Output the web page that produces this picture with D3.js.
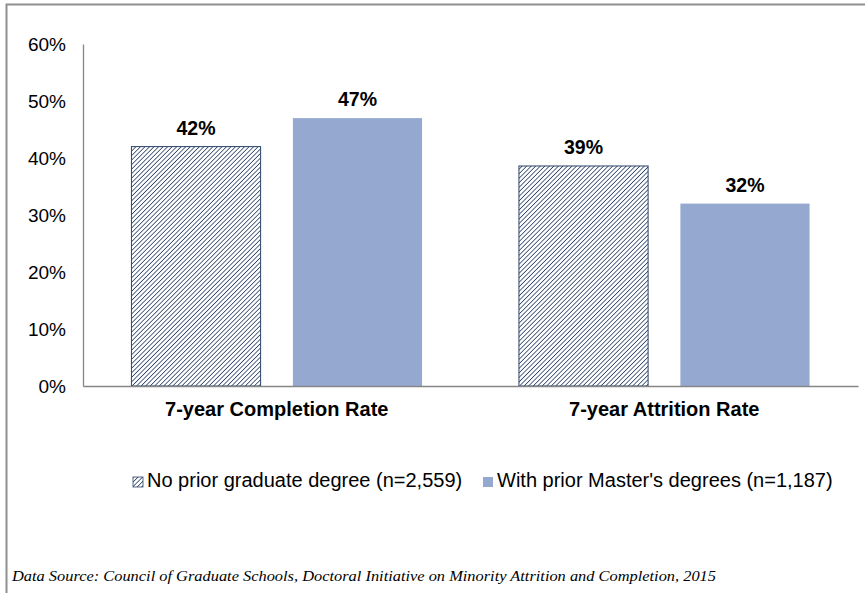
<!DOCTYPE html>
<html lang="en">

<head>
  <meta charset="UTF-8">
  <title>Completion and Attrition Rates</title>
  <script src="https://d3js.org/d3.v7.min.js"></script>
  <style>
    body { margin: 0; background: #fff; }
    svg text { font-family: "Liberation Sans", Arial, sans-serif; }
  </style>
</head>

<body>
  <script>

    // chart data
    var categories = ["7-year Completion Rate", "7-year Attrition Rate"];
    var seriesKeys = ["noPrior", "withMasters"];
    var seriesNames = ["No prior graduate degree (n=2,559)", "With prior Master's degrees (n=1,187)"];
    var noPriorValues = [0.42, 0.386];
    var withMastersValues = [0.47, 0.32];
    var yTickValues = [0, 0.1, 0.2, 0.3, 0.4, 0.5, 0.6];
    var sourceNote = "Data Source:  Council of Graduate Schools, Doctoral Initiative on Minority Attrition and Completion, 2015";

    var width = 865, height = 593;
    var plot = { left: 83, right: 858, top: 44, bottom: 386 };

    var blue = "#95a9d0";
    var navy = "#2d4468";
    var axisGray = "#868686";

    var svg = d3.select("body").append("svg")
      .attr("width", width)
      .attr("height", height);

    // hatch pattern for the first series
    var defs = svg.append("defs");
    var hatch = defs.append("pattern")
      .attr("id", "hatch")
      .attr("patternUnits", "userSpaceOnUse")
      .attr("width", 3.2)
      .attr("height", 3.2)
      .attr("patternTransform", "rotate(45)");
    hatch.append("rect").attr("width", 3.2).attr("height", 3.2).attr("fill", "#fff");
    hatch.append("line")
      .attr("x1", 0).attr("y1", 0).attr("x2", 0).attr("y2", 3.2)
      .attr("stroke", navy)
      .attr("stroke-width", 1.6);

    var fills = { noPrior: "url(#hatch)", withMasters: blue };
    var strokes = { noPrior: navy, withMasters: "none" };

    // chart frame (cut off at right and bottom)
    svg.append("rect")
      .attr("x", 6.5).attr("y", 4.5)
      .attr("width", 900).attr("height", 650)
      .attr("fill", "none")
      .attr("stroke", "#8f8f8f")
      .attr("stroke-width", 2);

    // scales
    var x0 = d3.scaleBand().domain(categories).range([plot.left, plot.right]);
    var x1 = d3.scaleBand().domain(seriesKeys)
      .range([0, x0.bandwidth()])
      .paddingInner(0.2)
      .paddingOuter(0.3);
    var y = d3.scaleLinear().domain([0, 0.6]).range([plot.bottom, plot.top]);

    var rows = categories.map(function (c, i) {
      return { category: c, noPrior: noPriorValues[i], withMasters: withMastersValues[i] };
    });

    // Y axis
    var yAxis = svg.append("g")
      .attr("transform", "translate(" + plot.left + ",0)")
      .call(d3.axisLeft(y).tickValues(yTickValues).tickFormat(d3.format(".0%"))
        .tickSize(0).tickSizeOuter(0).tickPadding(17));
    yAxis.select(".domain").attr("stroke", axisGray).attr("stroke-width", 1.3);
    yAxis.selectAll("text")
      .style("font-size", "19px")
      .attr("fill", "#000");

    // bars
    var groups = svg.selectAll(".group")
      .data(rows)
      .enter()
      .append("g")
      .attr("transform", function (d) { return "translate(" + x0(d.category) + ",0)"; });

    groups.selectAll("rect")
      .data(function (d) { return seriesKeys.map(function (k) { return { key: k, value: d[k] }; }); })
      .enter()
      .append("rect")
      .attr("x", function (d) { return x1(d.key); })
      .attr("y", function (d) { return y(d.value); })
      .attr("width", x1.bandwidth())
      .attr("height", function (d) { return y(0) - y(d.value); })
      .attr("fill", function (d) { return fills[d.key]; })
      .attr("stroke", function (d) { return strokes[d.key]; })
      .attr("stroke-width", 1);

    // value labels
    groups.selectAll(".label")
      .data(function (d) { return seriesKeys.map(function (k) { return { key: k, value: d[k] }; }); })
      .enter()
      .append("text")
      .attr("x", function (d) { return x1(d.key) + x1.bandwidth() / 2; })
      .attr("y", function (d) { return y(d.value) - 12; })
      .attr("text-anchor", "middle")
      .style("font-size", "19.5px")
      .style("font-weight", "bold")
      .text(function (d) { return d3.format(".0%")(d.value); });

    // X axis
    var xAxis = svg.append("g")
      .attr("transform", "translate(0," + plot.bottom + ")")
      .call(d3.axisBottom(x0).tickSize(0).tickSizeOuter(0).tickPadding(16));
    xAxis.select(".domain").attr("stroke", axisGray).attr("stroke-width", 1.3);
    xAxis.selectAll("text")
      .style("font-size", "20px")
      .style("font-weight", "bold")
      .attr("fill", "#000");

    // legend
    var legendX = [133, 483];
    var legend = svg.selectAll(".legend")
      .data(seriesKeys)
      .enter()
      .append("g")
      .attr("transform", function (d, i) { return "translate(" + legendX[i] + ",477)"; });

    legend.append("rect")
      .attr("width", 10).attr("height", 10)
      .attr("fill", function (d) { return fills[d]; })
      .attr("stroke", function (d) { return strokes[d]; })
      .attr("stroke-width", 0.8);

    legend.append("text")
      .attr("x", 14)
      .attr("y", 10)
      .style("font-size", "20px")
      .text(function (d, i) { return seriesNames[i]; });

    // source note
    svg.append("text")
      .attr("x", 12)
      .attr("y", 581)
      .attr("textLength", 704)
      .attr("lengthAdjust", "spacingAndGlyphs")
      .style("font-family", "'Liberation Serif', 'Times New Roman', serif")
      .style("font-style", "italic")
      .style("font-size", "15.5px")
      .text(sourceNote);

  </script>
</body>

</html>
